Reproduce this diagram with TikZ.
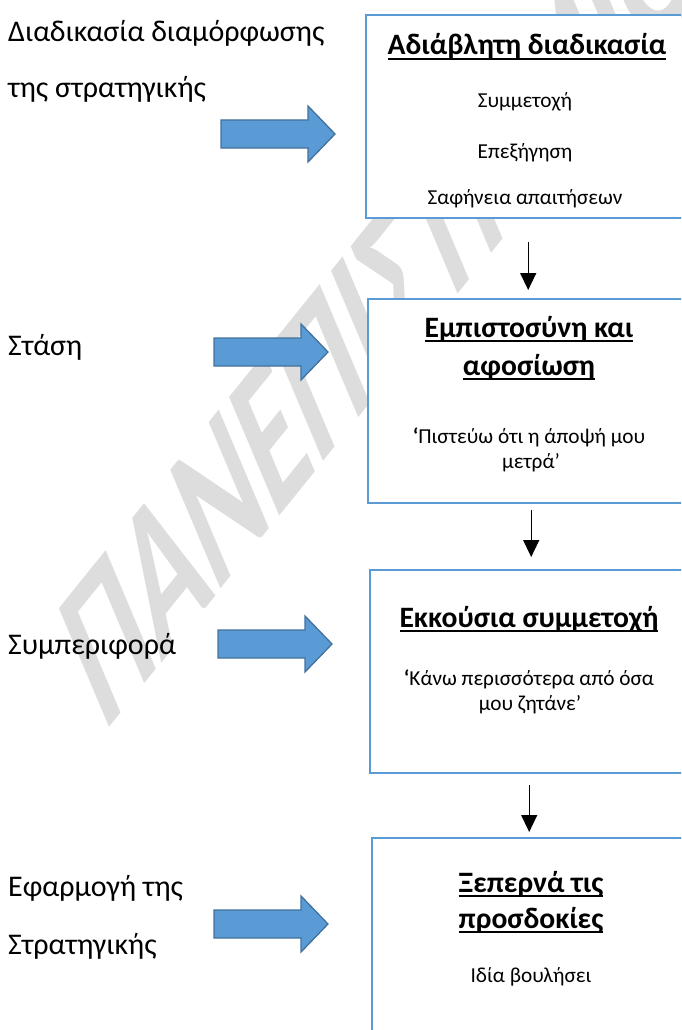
\documentclass[tikz,border=0pt]{standalone}
\usepackage{fontspec}
\setmainfont{Carlito}
\usetikzlibrary{arrows.meta}

\definecolor{panelblue}{HTML}{5B9BD5}
\definecolor{arrowfill}{HTML}{5B9BD5}
\definecolor{arrowedge}{HTML}{41719C}
\definecolor{wmgrey}{HTML}{DDDDDD}

% heading text with a thick underline
\newsavebox\ttlbox
\newcommand\ttl[1]{\sbox\ttlbox{#1}\rlap{\rule[-4.6pt]{\wd\ttlbox}{2pt}}\usebox\ttlbox}

\tikzset{
  panel/.style={draw=panelblue, line width=2.4pt, fill=white, inner sep=0pt, anchor=north west},
  sidetext/.style={anchor=base west, inner sep=0pt, font=\fontsize{30}{36}\selectfont},
  headtext/.style={anchor=base, inner sep=0pt, font=\bfseries\fontsize{29.6}{35}\selectfont},
  bodytext/.style={anchor=base, inner sep=0pt, font=\fontsize{21.3}{25}\selectfont},
  darrow/.style={line width=1.4pt, -{Triangle[length=17pt,width=16pt]}},
  blockarrow/.style={fill=arrowfill, draw=arrowedge, line width=1.3pt, line join=miter},
  wm/.style={anchor=base west, inner sep=0pt, text=wmgrey, transform shape,
             font=\bfseries\fontsize{60}{60}\selectfont},
  pics/rarrow/.style={code={
    \draw[blockarrow] (0,-14) -- (87,-14) -- (87,-28) -- (114,0) -- (87,28) -- (87,14) -- (0,14) -- cycle;
  }}
}

\begin{document}
\begin{tikzpicture}[x=1pt,y=-1pt]
\useasboundingbox (0,0) rectangle (681,1030);
\begin{scope}
\clip (0,0) rectangle (681,1030);

% watermark
\begin{scope}
  \pgftransformcm{1.50}{1.86}{-1.29}{3.05}{\pgfpoint{104pt}{-734pt}}
  \node[wm] (wmark) at (0,0) {ΠΑΝΕΠΙΣΤΗΜΙΟ};
\end{scope}

% panels
\node[panel, minimum width=324pt, minimum height=203pt] (b1) at (365,14) {};
\node[panel, minimum width=326pt, minimum height=204pt] (b2) at (367,298) {};
\node[panel, minimum width=318pt, minimum height=203pt] (b3) at (369,569) {};
\node[panel, minimum width=320pt, minimum height=260pt] (b4) at (371,837) {};

% panel contents
\node[headtext] (t1) at (527,55) {\ttl{Αδιάβλητη διαδικασία}};
\node[bodytext] (t1a) at (525,108) {Συμμετοχή};
\node[bodytext] (t1b) at (525,158) {Επεξήγηση};
\node[bodytext] (t1c) at (525,204) {Σαφήνεια απαιτήσεων};

\node[headtext] (t2) at (529,337) {\ttl{Εμπιστοσύνη και}};
\node[headtext] (t2b) at (529,375) {\ttl{αφοσίωση}};
\node[bodytext] (t2c) at (529,443) {{\bfseries ‘}Πιστεύω ότι η άποψή μου};
\node[bodytext] (t2d) at (531,468) {μετρά’};

\node[headtext] (t3) at (529,627) {\ttl{Εκκούσια συμμετοχή}};
\node[bodytext] (t3b) at (529,685) {{\bfseries ‘}Κάνω περισσότερα από όσα};
\node[bodytext] (t3c) at (530,710) {μου ζητάνε’};

\node[headtext] (t4) at (531,892) {\ttl{Ξεπερνά τις}};
\node[headtext] (t4b) at (531,928) {\ttl{προσδοκίες}};
\node[bodytext] (t4c) at (531,982) {Ιδία βουλήσει};

% side labels
\node[sidetext] (s1) at (8,42) {Διαδικασία διαμόρφωσης};
\node[sidetext] (s1b) at (8,98) {της στρατηγικής};
\node[sidetext] (s2) at (8,355) {Στάση};
\node[sidetext] (s3) at (8,654) {Συμπεριφορά};
\node[sidetext] (s4) at (8,896) {Εφαρμογή της};
\node[sidetext] (s4b) at (8,954) {Στρατηγικής};

% block arrows
\pic at (221,134) {rarrow};
\pic at (214,352) {rarrow};
\pic at (218,644) {rarrow};
\pic at (214,924) {rarrow};

% connectors between panels
\draw[darrow, shorten <=23pt, shorten >=8pt] (b1.south) -- (b1.south |- b2.north);
\draw[darrow, shorten <=6pt, shorten >=12pt] (b2.south) -- (b2.south |- b3.north);
\draw[darrow, shorten <=11pt, shorten >=5pt] (b3.south) -- (b3.south |- b4.north);
\end{scope}
\end{tikzpicture}
\end{document}
